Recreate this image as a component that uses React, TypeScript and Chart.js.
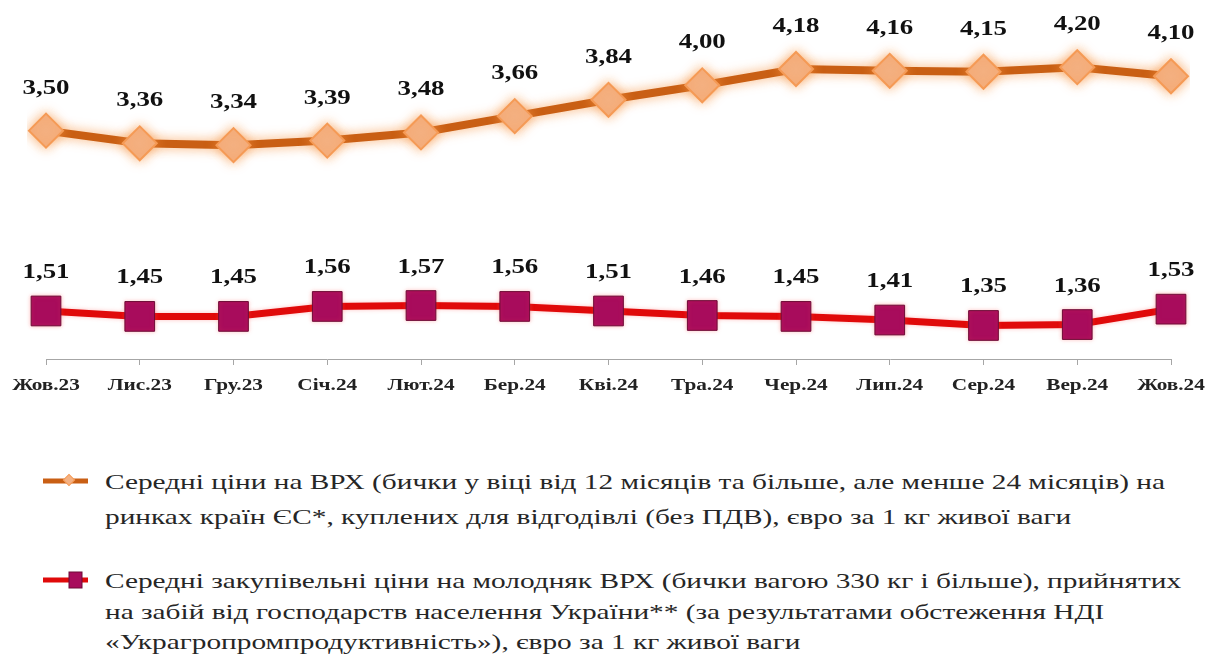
import React, { useEffect, useRef, useMemo } from 'react';
import { Chart, registerables } from 'chart.js';
Chart.register(...registerables);

const categories = ['Жов.23', 'Лис.23', 'Гру.23', 'Січ.24', 'Лют.24', 'Бер.24', 'Кві.24', 'Тра.24', 'Чер.24', 'Лип.24', 'Сер.24', 'Вер.24', 'Жов.24'];
const euPrices = [3.5, 3.36, 3.34, 3.39, 3.48, 3.66, 3.84, 4.0, 4.18, 4.16, 4.15, 4.2, 4.1];
const uaPrices = [1.51, 1.45, 1.45, 1.56, 1.57, 1.56, 1.51, 1.46, 1.45, 1.41, 1.35, 1.36, 1.53];
const euLegendLines = [
  'Середні ціни на ВРХ (бички у віці від 12 місяців та більше, але менше 24 місяців) на',
  'ринках країн ЄС*, куплених для відгодівлі (без ПДВ), євро за 1 кг живої ваги',
];
const uaLegendLines = [
  'Середні закупівельні ціни на молодняк ВРХ (бички вагою 330 кг і більше), прийнятих',
  'на забій від господарств населення України** (за результатами обстеження НДІ',
  '«Украгропромпродуктивність»), євро за 1 кг живої ваги',
];

const ORANGE_LINE = '#C95F14';
const ORANGE_FILL = '#F4B183';
const ORANGE_BORDER = '#F59A55';
const RED_LINE = '#E00A0A';
const RED_FILL = '#A80C5C';
const RED_BORDER = '#6E0B36';

const SERIF = "'Liberation Serif', Tinos, 'Times New Roman', 'DejaVu Serif', serif";

const glowPlugin = {
  id: 'glow',
  beforeDatasetDraw(chart: any, args: any) {
    const ctx = chart.ctx;
    ctx.save();
    if (args.index === 0) {
      ctx.shadowColor = 'rgba(247,150,70,0.75)';
      ctx.shadowBlur = 12;
    } else {
      ctx.shadowColor = 'rgba(255,80,80,0.35)';
      ctx.shadowBlur = 4;
    }
  },
  afterDatasetDraw(chart: any) {
    chart.ctx.restore();
  },
};

const labelPlugin = {
  id: 'valueLabels',
  afterDatasetsDraw(chart: any) {
    const ctx = chart.ctx;
    const offsets = [37, 33];
    chart.data.datasets.forEach((ds: any, di: number) => {
      const meta = chart.getDatasetMeta(di);
      meta.data.forEach((pt: any, i: number) => {
        const text = Number(ds.data[i]).toFixed(2).replace('.', ',');
        ctx.save();
        ctx.translate(pt.x, pt.y - offsets[di]);
        ctx.scale(1.28, 1);
        ctx.font = `bold 21px ${SERIF}`;
        ctx.fillStyle = '#111';
        ctx.textAlign = 'center';
        ctx.textBaseline = 'alphabetic';
        ctx.fillText(text, 0, 0);
        ctx.restore();
      });
    });
  },
};

const tickLabelPlugin = {
  id: 'tickLabels',
  afterDraw(chart: any) {
    const ctx = chart.ctx;
    const xs = chart.scales.x;
    categories.forEach((c, i) => {
      const x = xs.getPixelForValue(i);
      ctx.save();
      ctx.translate(x, xs.top + 31);
      ctx.scale(1.25, 1);
      ctx.font = `bold 17px ${SERIF}`;
      ctx.fillStyle = '#222';
      ctx.textAlign = 'center';
      ctx.textBaseline = 'alphabetic';
      ctx.fillText(c, 0, 0);
      ctx.restore();
    });
  },
};

function LegendLine({ text, top, scale }: { text: string; top: number; scale: number }) {
  return (
    <div
      style={{
        position: 'absolute',
        left: 97,
        top,
        whiteSpace: 'nowrap',
        fontFamily: SERIF,
        fontSize: 21,
        lineHeight: '32px',
        color: '#262626',
        transform: `scaleX(${scale})`,
        transformOrigin: 'left center',
      }}
    >
      {text}
    </div>
  );
}

export default function App() {
  const canvasRef = useRef<HTMLCanvasElement | null>(null);

  const legendScale = useMemo(() => {
    const c = document.createElement('canvas').getContext('2d');
    if (!c) return 1.3;
    c.font = `21px ${SERIF}`;
    const w = c.measureText(euLegendLines[0]).width;
    return w > 0 ? 1060 / w : 1.3;
  }, []);

  useEffect(() => {
    if (!canvasRef.current) return;
    const chart = new Chart(canvasRef.current, {
      type: 'line',
      data: {
        labels: categories,
        datasets: [
          {
            label: euLegendLines.join(' '),
            data: euPrices,
            borderColor: ORANGE_LINE,
            borderWidth: 8,
            backgroundColor: ORANGE_FILL,
            pointStyle: 'rectRot',
            pointRadius: 17,
            pointHoverRadius: 17,
            pointBackgroundColor: ORANGE_FILL,
            pointBorderColor: ORANGE_BORDER,
            pointBorderWidth: 2,
            tension: 0,
          },
          {
            label: uaLegendLines.join(' '),
            data: uaPrices,
            borderColor: RED_LINE,
            borderWidth: 7,
            backgroundColor: RED_FILL,
            pointStyle: 'rect',
            pointRadius: 21,
            pointHoverRadius: 21,
            pointBackgroundColor: RED_FILL,
            pointBorderColor: RED_BORDER,
            pointBorderWidth: 1,
            tension: 0,
          },
        ],
      },
      options: {
        animation: false,
        responsive: false,
        maintainAspectRatio: false,
        layout: { padding: { left: 38, right: 38, top: 32, bottom: 63 } },
        plugins: {
          legend: { display: false },
          tooltip: { enabled: false },
        },
        scales: {
          x: {
            offset: false,
            grid: { drawOnChartArea: false, drawTicks: true, tickLength: 6, color: '#A6A6A6' },
            border: { display: true, color: '#A6A6A6', width: 1 },
            ticks: { display: false },
          },
          y: {
            display: false,
            min: 0.98,
            max: 4.5,
          },
        },
      },
      plugins: [glowPlugin, labelPlugin, tickLabelPlugin],
    });
    return () => chart.destroy();
  }, []);

  return (
    <div style={{ position: 'relative', width: 1201, height: 646 }}>
      <canvas ref={canvasRef} width={1201} height={420} style={{ position: 'absolute', left: 0, top: 0 }} />
      <svg width={80} height={646} style={{ position: 'absolute', left: 0, top: 0 }}>
        <line x1={35} y1={473} x2={95} y2={473} stroke={ORANGE_LINE} strokeWidth={5} />
        <rect x={57} y={468} width={8} height={8} fill={ORANGE_FILL} stroke={ORANGE_BORDER} strokeWidth={1} transform="rotate(45 61 472)" />
        <line x1={35} y1={572} x2={95} y2={572} stroke={RED_LINE} strokeWidth={5} />
        <rect x={61} y={564} width={13} height={16} fill={RED_FILL} stroke={RED_BORDER} strokeWidth={1} />
      </svg>
      <LegendLine text={euLegendLines[0]} top={458} scale={legendScale} />
      <LegendLine text={euLegendLines[1]} top={493} scale={legendScale} />
      <LegendLine text={uaLegendLines[0]} top={557} scale={legendScale} />
      <LegendLine text={uaLegendLines[1]} top={588} scale={legendScale} />
      <LegendLine text={uaLegendLines[2]} top={618} scale={legendScale} />
    </div>
  );
}
